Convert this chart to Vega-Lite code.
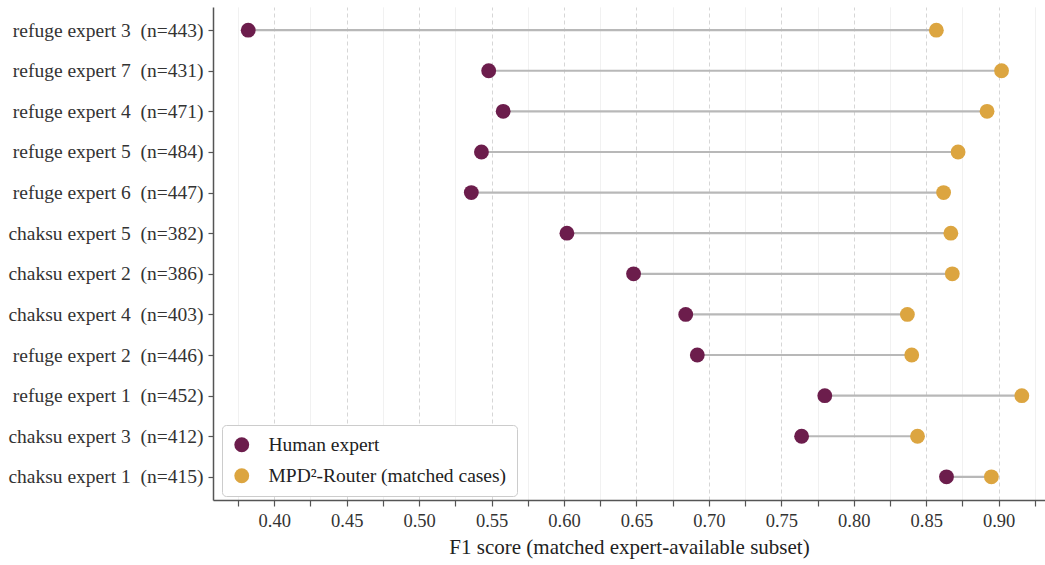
{
  "$schema": "https://vega.github.io/schema/vega-lite/v6.json",
  "width": 832,
  "height": 493,
  "autosize": {"type": "none"},
  "padding": {"left": 213, "top": 7, "right": 0, "bottom": 65},
  "background": "white",
  "config": {
    "font": "Liberation Serif",
    "view": {"stroke": null},
    "axis": {"labelFont": "Liberation Serif", "titleFont": "Liberation Serif", "labelColor": "#333333", "titleColor": "#222222", "domainColor": "#555555", "tickColor": "#555555", "domainWidth": 1.5, "tickWidth": 1.2, "titleFontWeight": "normal"},
    "legend": {"labelFont": "Liberation Serif"}
  },
  "data": {
    "values": [
      {"label": "refuge expert 3 \u00a0(n=443)", "human": 0.382, "mpd": 0.857},
      {"label": "refuge expert 7 \u00a0(n=431)", "human": 0.548, "mpd": 0.902},
      {"label": "refuge expert 4 \u00a0(n=471)", "human": 0.558, "mpd": 0.892},
      {"label": "refuge expert 5 \u00a0(n=484)", "human": 0.543, "mpd": 0.872},
      {"label": "refuge expert 6 \u00a0(n=447)", "human": 0.536, "mpd": 0.862},
      {"label": "chaksu expert 5 \u00a0(n=382)", "human": 0.602, "mpd": 0.867},
      {"label": "chaksu expert 2 \u00a0(n=386)", "human": 0.648, "mpd": 0.868},
      {"label": "chaksu expert 4 \u00a0(n=403)", "human": 0.684, "mpd": 0.837},
      {"label": "refuge expert 2 \u00a0(n=446)", "human": 0.692, "mpd": 0.840},
      {"label": "refuge expert 1 \u00a0(n=452)", "human": 0.780, "mpd": 0.916},
      {"label": "chaksu expert 3 \u00a0(n=412)", "human": 0.764, "mpd": 0.844},
      {"label": "chaksu expert 1 \u00a0(n=415)", "human": 0.864, "mpd": 0.895}
    ]
  },
  "encoding": {
    "y": {
      "field": "label", "type": "nominal", "sort": null,
      "scale": {"type": "point", "padding": 0.57},
      "axis": {"title": null, "grid": false, "labelFontSize": 19.5, "tickSize": 5, "labelPadding": 5, "labelLimit": 300}
    }
  },
  "layer": [
    {
      "mark": {"type": "rule", "color": "#b8b8b8", "strokeWidth": 2.2},
      "encoding": {
        "x": {
          "field": "human", "type": "quantitative",
          "scale": {"domain": [0.3577, 0.932], "nice": false, "zero": false},
          "axis": {
            "title": "F1 score (matched expert-available subset)",
            "titleFontSize": 21, "titlePadding": 7, "labelFontSize": 18.5, "labelPadding": 5, "tickSize": 6,
            "values": [0.375, 0.4, 0.425, 0.45, 0.475, 0.5, 0.525, 0.55, 0.575, 0.6, 0.625, 0.65, 0.675, 0.7, 0.725, 0.75, 0.775, 0.8, 0.825, 0.85, 0.875, 0.9, 0.925],
            "labelExpr": "round(datum.value*1000) % 50 == 0 ? format(datum.value, '.2f') : ''",
            "grid": true,
            "gridColor": {"condition": {"test": "round(datum.value*1000) % 50 == 0", "value": "#d6d6d6"}, "value": "#ececec"},
            "gridDash": {"condition": {"test": "round(datum.value*1000) % 50 == 0", "value": [4, 3]}, "value": [1, 0]},
            "gridWidth": 1
          }
        },
        "x2": {"field": "mpd"}
      }
    },
    {
      "transform": [{"fold": ["human", "mpd"], "as": ["series", "f1"]}],
      "mark": {"type": "circle", "size": 220, "opacity": 1},
      "encoding": {
        "x": {
          "field": "f1", "type": "quantitative",
          "axis": {
            "title": "F1 score (matched expert-available subset)",
            "titleFontSize": 21, "titlePadding": 7, "labelFontSize": 18.5, "labelPadding": 5, "tickSize": 6,
            "values": [0.375, 0.4, 0.425, 0.45, 0.475, 0.5, 0.525, 0.55, 0.575, 0.6, 0.625, 0.65, 0.675, 0.7, 0.725, 0.75, 0.775, 0.8, 0.825, 0.85, 0.875, 0.9, 0.925],
            "labelExpr": "round(datum.value*1000) % 50 == 0 ? format(datum.value, '.2f') : ''",
            "grid": true,
            "gridColor": {"condition": {"test": "round(datum.value*1000) % 50 == 0", "value": "#d6d6d6"}, "value": "#ececec"},
            "gridDash": {"condition": {"test": "round(datum.value*1000) % 50 == 0", "value": [4, 3]}, "value": [1, 0]},
            "gridWidth": 1
          }
        },
        "color": {
          "field": "series", "type": "nominal",
          "scale": {"domain": ["human", "mpd"], "range": ["#6c1d4c", "#dca540"]},
          "legend": {
            "title": null, "orient": "none", "legendX": 9, "legendY": 418,
            "labelExpr": "datum.value == 'human' ? 'Human expert' : 'MPD\u00b2-Router (matched cases)'",
            "labelFontSize": 19.5, "labelColor": "#222222", "labelLimit": 400, "symbolSize": 220, "symbolType": "circle", "symbolStrokeWidth": 0,
            "fillColor": "white", "strokeColor": "#cccccc", "cornerRadius": 4, "padding": 10, "rowPadding": 10, "labelOffset": 17
          }
        }
      }
    }
  ]
}
